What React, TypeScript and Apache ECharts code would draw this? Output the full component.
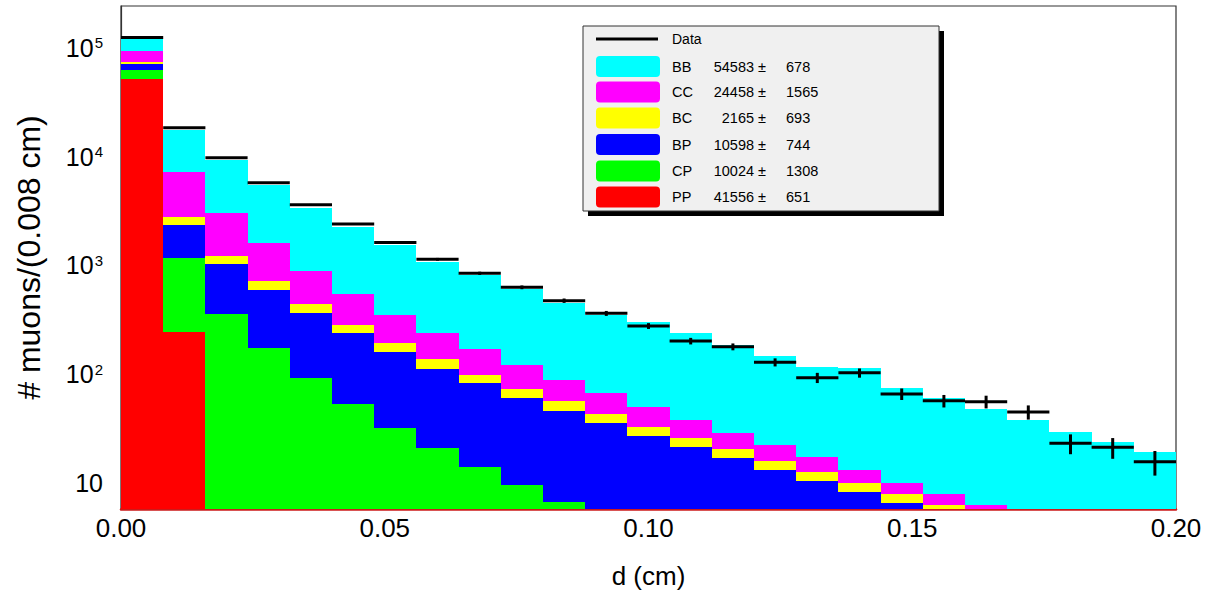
import React, { useEffect, useRef } from 'react';
import * as echarts from 'echarts';

// ---------- data ----------
const BIN_WIDTH = 0.008;
const N_BINS = 25;

// component contents per bin (stack order bottom -> top: PP, CP, BP, BC, CC, BB)
const PP = [51500, 246, 3, 2, 1.5, 1, 1, 0.8, 0.6, 0.5, 0.4, 0.3, 0.3, 0.2, 0.2, 0.1, 0.1, 0.1, 0.1, 0.1, 0, 0, 0, 0, 0];
const CP = [11300, 934, 353, 173, 90, 52, 31, 20, 13.5, 9.1, 6.3, 3.7, 2.2, 1.8, 1.3, 1.1, 0.9, 0.7, 0.5, 0.4, 0.3, 0.2, 0.2, 0.1, 0.1];
const BP = [8500, 1180, 674, 421, 276, 185, 129, 92, 69, 51, 39.5, 31.4, 24.7, 19.6, 15.4, 12, 9.5, 7.4, 6.0, 5.0, 4.0, 3.2, 2.6, 2.1, 1.7];
const BC = [2500, 430, 200, 120, 72, 46, 32, 24, 16, 12, 10, 7.5, 5.8, 4.5, 3.5, 2.7, 2.2, 1.7, 1.4, 0.8, 0.6, 0.5, 0.4, 0.3, 0.3];
const CC = [20600, 4400, 1830, 884, 450, 259, 158, 101, 70, 49, 32.5, 24, 17.4, 12, 8.6, 6.4, 4.5, 3.3, 2.1, 1.7, 1.4, 1.1, 0.9, 0.7, 0.6];
const BB = [25600, 10400, 6270, 3900, 2490, 1717, 1194, 847, 644, 482, 366, 284, 254, 200, 157, 125, 100, 100, 64, 52, 41.4, 33, 25.5, 20.5, 16.4];

const DATA = [125000, 18500, 9790, 5770, 3620, 2410, 1630, 1140, 848, 630, 475, 363, 278, 202, 179, 129, 93, 103, 66, 57, 56, 45, 23.2, 21.3, 15.7];
const DATA_ERR = [354, 136, 99, 76, 60, 49, 40, 34, 29, 25, 22, 19, 17, 14, 13, 11, 10, 10, 8, 7.5, 7.5, 6.7, 4.8, 4.6, 4.0];

// legend (fit results)
const LEGEND_NAMES = ['BB', 'CC', 'BC', 'BP', 'CP', 'PP'];
const FIT_VALUES = [54583, 24458, 2165, 10598, 10024, 41556];
const FIT_ERRORS = [678, 1565, 693, 744, 1308, 651];

const X_TICKS = [0, 0.05, 0.1, 0.15, 0.2];

// ---------- styles ----------
const FONT = '"Liberation Sans", Arial, Helvetica, sans-serif';
const Y_MIN = 5.77;
const Y_MAX = 243000;

const LAYERS = [
  { name: 'PP', values: PP, color: '#ff0000' },
  { name: 'CP', values: CP, color: '#00ff00' },
  { name: 'BP', values: BP, color: '#0000ff' },
  { name: 'BC', values: BC, color: '#ffff00' },
  { name: 'CC', values: CC, color: '#ff00ff' },
  { name: 'BB', values: BB, color: '#00ffff' },
];
const LEGEND_COLORS: Record<string, string> = {
  BB: '#00ffff', CC: '#ff00ff', BC: '#ffff00', BP: '#0000ff', CP: '#00ff00', PP: '#ff0000',
};

function buildOption() {
  const cum = new Array(N_BINS).fill(0);
  const layerSeries = LAYERS.map((layer, li) => {
    const data = [] as number[][];
    for (let i = 0; i < N_BINS; i++) {
      const lo = cum[i];
      const hi = lo + layer.values[i];
      cum[i] = hi;
      data.push([i * BIN_WIDTH, (i + 1) * BIN_WIDTH, lo, hi]);
    }
    return {
      type: 'custom',
      name: layer.name,
      z: 2 + li,
      data,
      encode: { x: [0, 1], y: 3 },
      renderItem: (params: any, api: any) => {
        const x0 = api.value(0);
        const x1 = api.value(1);
        const lo = api.value(2);
        const hi = api.value(3);
        if (!(hi > Y_MIN) || !(hi > lo)) return null;
        const p0 = api.coord([x0, Math.max(lo, Y_MIN)]);
        const p1 = api.coord([x1, Math.min(hi, Y_MAX)]);
        const xa = Math.round(p0[0]);
        const xb = Math.round(p1[0]);
        const ya = Math.round(p1[1]);
        const yb = Math.round(p0[1]);
        if (yb <= ya) return null;
        return {
          type: 'rect',
          shape: { x: xa, y: ya, width: xb - xa, height: yb - ya },
          style: { fill: layer.color },
        };
      },
    };
  });

  const dataSeries = {
    type: 'custom',
    name: 'Data',
    z: 20,
    data: DATA.map((v, i) => [i * BIN_WIDTH, (i + 1) * BIN_WIDTH, v, DATA_ERR[i]]),
    encode: { x: [0, 1], y: 2 },
    renderItem: (params: any, api: any) => {
      const x0 = api.value(0);
      const x1 = api.value(1);
      const v = api.value(2);
      const e = api.value(3);
      const pl = api.coord([x0, v]);
      const pr = api.coord([x1, v]);
      const xm = (x0 + x1) / 2;
      const pt = api.coord([xm, v + e]);
      const pb = api.coord([xm, Math.max(v - e, Y_MIN)]);
      return {
        type: 'group',
        children: [
          { type: 'line', shape: { x1: pl[0], y1: pl[1], x2: pr[0], y2: pr[1] }, style: { stroke: '#000', lineWidth: 3 } },
          { type: 'line', shape: { x1: pt[0], y1: pt[1], x2: pb[0], y2: pb[1] }, style: { stroke: '#000', lineWidth: 3 } },
        ],
      };
    },
  };

  // legend graphics
  const rowY = [66.5, 92, 118, 144.5, 171, 197];
  const legendEls: any[] = [
    { type: 'rect', shape: { x: 588, y: 31, width: 356, height: 185 }, style: { fill: '#000' }, z: 100 },
    { type: 'rect', shape: { x: 583, y: 26, width: 356, height: 185 }, style: { fill: '#f0f0f0', stroke: '#333', lineWidth: 1 }, z: 101 },
    { type: 'line', shape: { x1: 596, y1: 39, x2: 658, y2: 39 }, style: { stroke: '#000', lineWidth: 3 }, z: 102 },
    { type: 'text', x: 672, y: 39, style: { text: 'Data', fontFamily: FONT, fontSize: 14, fill: '#000', verticalAlign: 'middle' }, z: 102 },
  ];
  LEGEND_NAMES.forEach((n, k) => {
    const y = rowY[k];
    legendEls.push(
      { type: 'rect', shape: { x: 596, y: y - 10.5, width: 64, height: 21, r: 4 }, style: { fill: LEGEND_COLORS[n] }, z: 102 },
      { type: 'text', x: 672, y, style: { text: n, fontFamily: FONT, fontSize: 14.5, fill: '#000', verticalAlign: 'middle' }, z: 102 },
      { type: 'text', x: 766, y, style: { text: FIT_VALUES[k] + ' \u00b1', fontFamily: FONT, fontSize: 14.5, fill: '#000', verticalAlign: 'middle', align: 'right' }, z: 102 },
      { type: 'text', x: 786, y, style: { text: String(FIT_ERRORS[k]), fontFamily: FONT, fontSize: 14.5, fill: '#000', verticalAlign: 'middle' }, z: 102 },
    );
  });

  return {
    animation: false,
    backgroundColor: '#ffffff',
    grid: { left: 121, right: 33, top: 6, bottom: 87, show: true, borderColor: '#333', borderWidth: 1.2, backgroundColor: 'transparent' },
    xAxis: {
      type: 'value',
      min: X_TICKS[0],
      max: X_TICKS[X_TICKS.length - 1],
      interval: 0.05,
      name: 'd (cm)',
      nameLocation: 'middle',
      nameGap: 54,
      nameTextStyle: { fontFamily: FONT, fontSize: 26, color: '#000' },
      axisLine: { show: true, onZero: false, lineStyle: { color: '#cc1a1a', width: 2.5 } },
      axisTick: { show: false },
      splitLine: { show: false },
      axisLabel: {
        fontFamily: FONT, fontSize: 26, color: '#000', margin: 6,
        formatter: (v: number) => v.toFixed(2),
      },
    },
    yAxis: {
      type: 'log',
      logBase: 10,
      min: Y_MIN,
      max: Y_MAX,
      name: '# muons/(0.008 cm)',
      nameLocation: 'middle',
      nameGap: 76,
      nameTextStyle: { fontFamily: FONT, fontSize: 32, color: '#000' },
      axisLine: { show: true, lineStyle: { color: '#333', width: 1.2 } },
      axisTick: { show: false },
      splitLine: { show: false },
      axisLabel: {
        margin: 18,
        formatter: (v: number) => {
          const l = Math.log10(v);
          const e = Math.round(l);
          if (Math.abs(l - e) > 1e-6) return '';
          if (e === 1) return '{b|10}';
          return '{b|10}{s|' + e + '}';
        },
        rich: {
          b: { fontFamily: FONT, fontSize: 25, color: '#000', verticalAlign: 'bottom', lineHeight: 25 },
          s: { fontFamily: FONT, fontSize: 15, color: '#000', verticalAlign: 'top', lineHeight: 15, padding: [0, 0, 12, 1] },
        },
      },
    },
    series: [...layerSeries, dataSeries],
    graphic: legendEls,
  };
}

export default function App() {
  const ref = useRef<HTMLDivElement>(null);
  useEffect(() => {
    if (!ref.current) return;
    const chart = echarts.init(ref.current, undefined, { renderer: 'svg' });
    chart.setOption(buildOption() as any);
    return () => chart.dispose();
  }, []);
  return (
    <div
      ref={ref}
      style={{ position: 'fixed', left: 0, top: 0, width: 1209, height: 596, background: '#fff' }}
    />
  );
}
